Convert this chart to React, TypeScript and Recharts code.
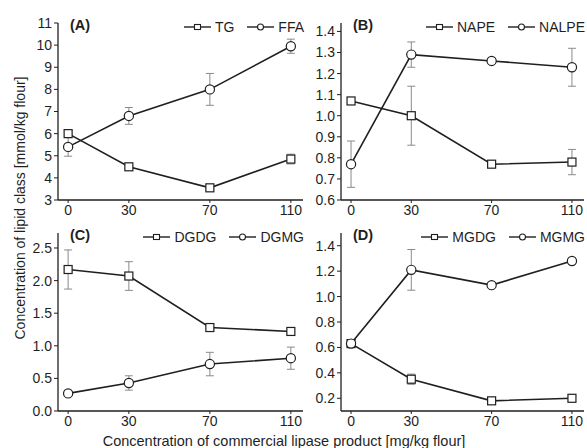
import React from 'react';
import { LineChart, Line, XAxis, YAxis, ErrorBar } from 'recharts';

const doses = [0, 30, 70, 110];

const tg = [6.0, 4.5, 3.55, 4.85];
const tgErr = [0.12, 0.08, 0.1, 0.22];
const ffa = [5.4, 6.8, 8.0, 9.95];
const ffaErr = [0.42, 0.38, 0.72, 0.32];

const nape = [1.07, 1.0, 0.77, 0.78];
const napeErr = [0.01, 0.14, 0.01, 0.06];
const nalpe = [0.77, 1.29, 1.26, 1.23];
const nalpeErr = [0.11, 0.06, 0.01, 0.09];

const dgdg = [2.17, 2.07, 1.28, 1.22];
const dgdgErr = [0.3, 0.22, 0.03, 0.04];
const dgmg = [0.27, 0.43, 0.72, 0.81];
const dgmgErr = [0.03, 0.11, 0.18, 0.17];

const mgdg = [0.63, 0.35, 0.18, 0.2];
const mgdgErr = [0.02, 0.04, 0.01, 0.01];
const mgmg = [0.63, 1.21, 1.09, 1.28];
const mgmgErr = [0.01, 0.16, 0.01, 0.01];

const ticksA = [3, 4, 5, 6, 7, 8, 9, 10, 11];
const minorA = [3.5, 4.5, 5.5, 6.5, 7.5, 8.5, 9.5, 10.5];
const ticksB = [0.6, 0.7, 0.8, 0.9, 1.0, 1.1, 1.2, 1.3, 1.4];
const minorB = [0.65, 0.75, 0.85, 0.95, 1.05, 1.15, 1.25, 1.35];
const ticksC = [0, 0.5, 1.0, 1.5, 2.0, 2.5];
const minorC = [0.25, 0.75, 1.25, 1.75, 2.25];
const ticksD = [0.2, 0.4, 0.6, 0.8, 1.0, 1.2, 1.4];
const minorD = [0.3, 0.5, 0.7, 0.9, 1.1, 1.3];

const FONT = '"Liberation Sans", Arial, sans-serif';
const INK = '#1f1f1f';

const build = (a: number[], ae: number[], b: number[], be: number[]) =>
  doses.map((d, i) => ({ dose: d, a: a[i], ae: ae[i], b: b[i], be: be[i] }));

const squareDot = (p: any) => (
  <rect key={`s-${p.index}`} x={p.cx - 4} y={p.cy - 4} width={8} height={8} fill="#fff" stroke={INK} strokeWidth={1.2} />
);
const circleDot = (p: any) => (
  <circle key={`c-${p.index}`} cx={p.cx} cy={p.cy} r={4.6} fill="#fff" stroke={INK} strokeWidth={1.2} />
);

function LegendItem({ shape, name, gap }: { shape: 'square' | 'circle'; name: string; gap: number }) {
  return (
    <span style={{ display: 'inline-flex', alignItems: 'center', marginLeft: gap }}>
      <svg width={27} height={12}>
        <line x1={0} y1={6} x2={27} y2={6} stroke={INK} strokeWidth={1.4} />
        {shape === 'square'
          ? <rect x={10.5} y={3.5} width={6} height={5} fill="#fff" stroke={INK} strokeWidth={1.1} />
          : <circle cx={13.5} cy={6} r={3} fill="#fff" stroke={INK} strokeWidth={1.1} />}
      </svg>
      <span style={{ marginLeft: 4 }}>{name}</span>
    </span>
  );
}

type PanelProps = {
  left: number; top: number; width: number; height: number; right: number;
  label: string; names: [string, string];
  data: any[]; domain: [number, number]; ticks: number[]; minor: number[]; digits: number;
};

function Panel({ left, top, width, height, right, label, names, data, domain, ticks, minor, digits }: PanelProps) {
  return (
    <div style={{ position: 'absolute', left, top, width, height }}>
      <LineChart width={width} height={height} data={data} margin={{ top: 23, right, left: 0, bottom: 0 }}>
        <XAxis
          dataKey="dose" type="number" domain={[-5, 116]} ticks={doses} allowDataOverflow
          height={25} tickSize={3} tickMargin={2}
          axisLine={{ stroke: INK, strokeWidth: 1.3 }} tickLine={{ stroke: INK }}
          tick={{ fill: INK, fontSize: 14, fontFamily: FONT }}
        />
        <YAxis
          yAxisId="minor" type="number" domain={domain} ticks={minor} allowDataOverflow width={0}
          tickSize={2} axisLine={false} tickLine={{ stroke: INK }}
          tickFormatter={() => ''} tick={{ fontSize: 1 }}
        />
        <YAxis
          type="number" domain={domain} ticks={ticks} allowDataOverflow width={58}
          tickSize={4} tickMargin={2} interval={0}
          tickFormatter={(v: number) => v.toFixed(digits)}
          axisLine={{ stroke: INK, strokeWidth: 1.3 }} tickLine={{ stroke: INK }}
          tick={{ fill: INK, fontSize: 14, fontFamily: FONT }}
        />
        <Line dataKey="a" name={names[0]} stroke={INK} strokeWidth={1.6} dot={squareDot} isAnimationActive={false}>
          <ErrorBar dataKey="ae" direction="y" width={4} stroke="#8a8a8a" strokeWidth={1} />
        </Line>
        <Line dataKey="b" name={names[1]} stroke={INK} strokeWidth={1.6} dot={circleDot} isAnimationActive={false}>
          <ErrorBar dataKey="be" direction="y" width={4} stroke="#8a8a8a" strokeWidth={1} />
        </Line>
      </LineChart>
      <div style={{ position: 'absolute', left: 70, top: 17, fontWeight: 'bold', fontSize: 14.5, color: INK }}>{label}</div>
      <div style={{ position: 'absolute', right: right - 1, top: 20, fontSize: 14, color: INK, display: 'flex', lineHeight: '14px' }}>
        <LegendItem shape="square" name={names[0]} gap={0} />
        <LegendItem shape="circle" name={names[1]} gap={13} />
      </div>
    </div>
  );
}

export default function App() {
  return (
    <div style={{ position: 'absolute', left: 0, top: 0, width: 587, height: 448, background: '#fff', overflow: 'hidden', fontFamily: FONT }}>
      <Panel left={0} top={0} width={306} height={225} right={3} label="(A)" names={['TG', 'FFA']}
        data={build(tg, tgErr, ffa, ffaErr)} domain={[3, 11]} ticks={ticksA} minor={minorA} digits={0} />
      <Panel left={283} top={0} width={304} height={225} right={3} label="(B)" names={['NAPE', 'NALPE']}
        data={build(nape, napeErr, nalpe, nalpeErr)} domain={[0.6, 1.44]} ticks={ticksB} minor={minorB} digits={1} />
      <Panel left={0} top={210} width={306} height={226} right={3} label="(C)" names={['DGDG', 'DGMG']}
        data={build(dgdg, dgdgErr, dgmg, dgmgErr)} domain={[0, 2.73]} ticks={ticksC} minor={minorC} digits={1} />
      <Panel left={283} top={210} width={304} height={226} right={3} label="(D)" names={['MGDG', 'MGMG']}
        data={build(mgdg, mgdgErr, mgmg, mgmgErr)} domain={[0.1, 1.5]} ticks={ticksD} minor={minorD} digits={1} />
      <div style={{ position: 'absolute', left: 0, width: 568, top: 433, textAlign: 'center', fontSize: 14.5, lineHeight: '17px', color: INK, whiteSpace: 'nowrap' }}>
        Concentration of commercial lipase product [mg/kg flour]
      </div>
      <div style={{ position: 'absolute', left: 20, top: 208, width: 0, height: 0 }}>
        <div style={{ position: 'absolute', transform: 'translate(-50%, -50%) rotate(-90deg)', whiteSpace: 'nowrap', fontSize: 14, lineHeight: '16px', color: INK }}>
          Concentration of lipid class [mmol/kg flour]
        </div>
      </div>
    </div>
  );
}
